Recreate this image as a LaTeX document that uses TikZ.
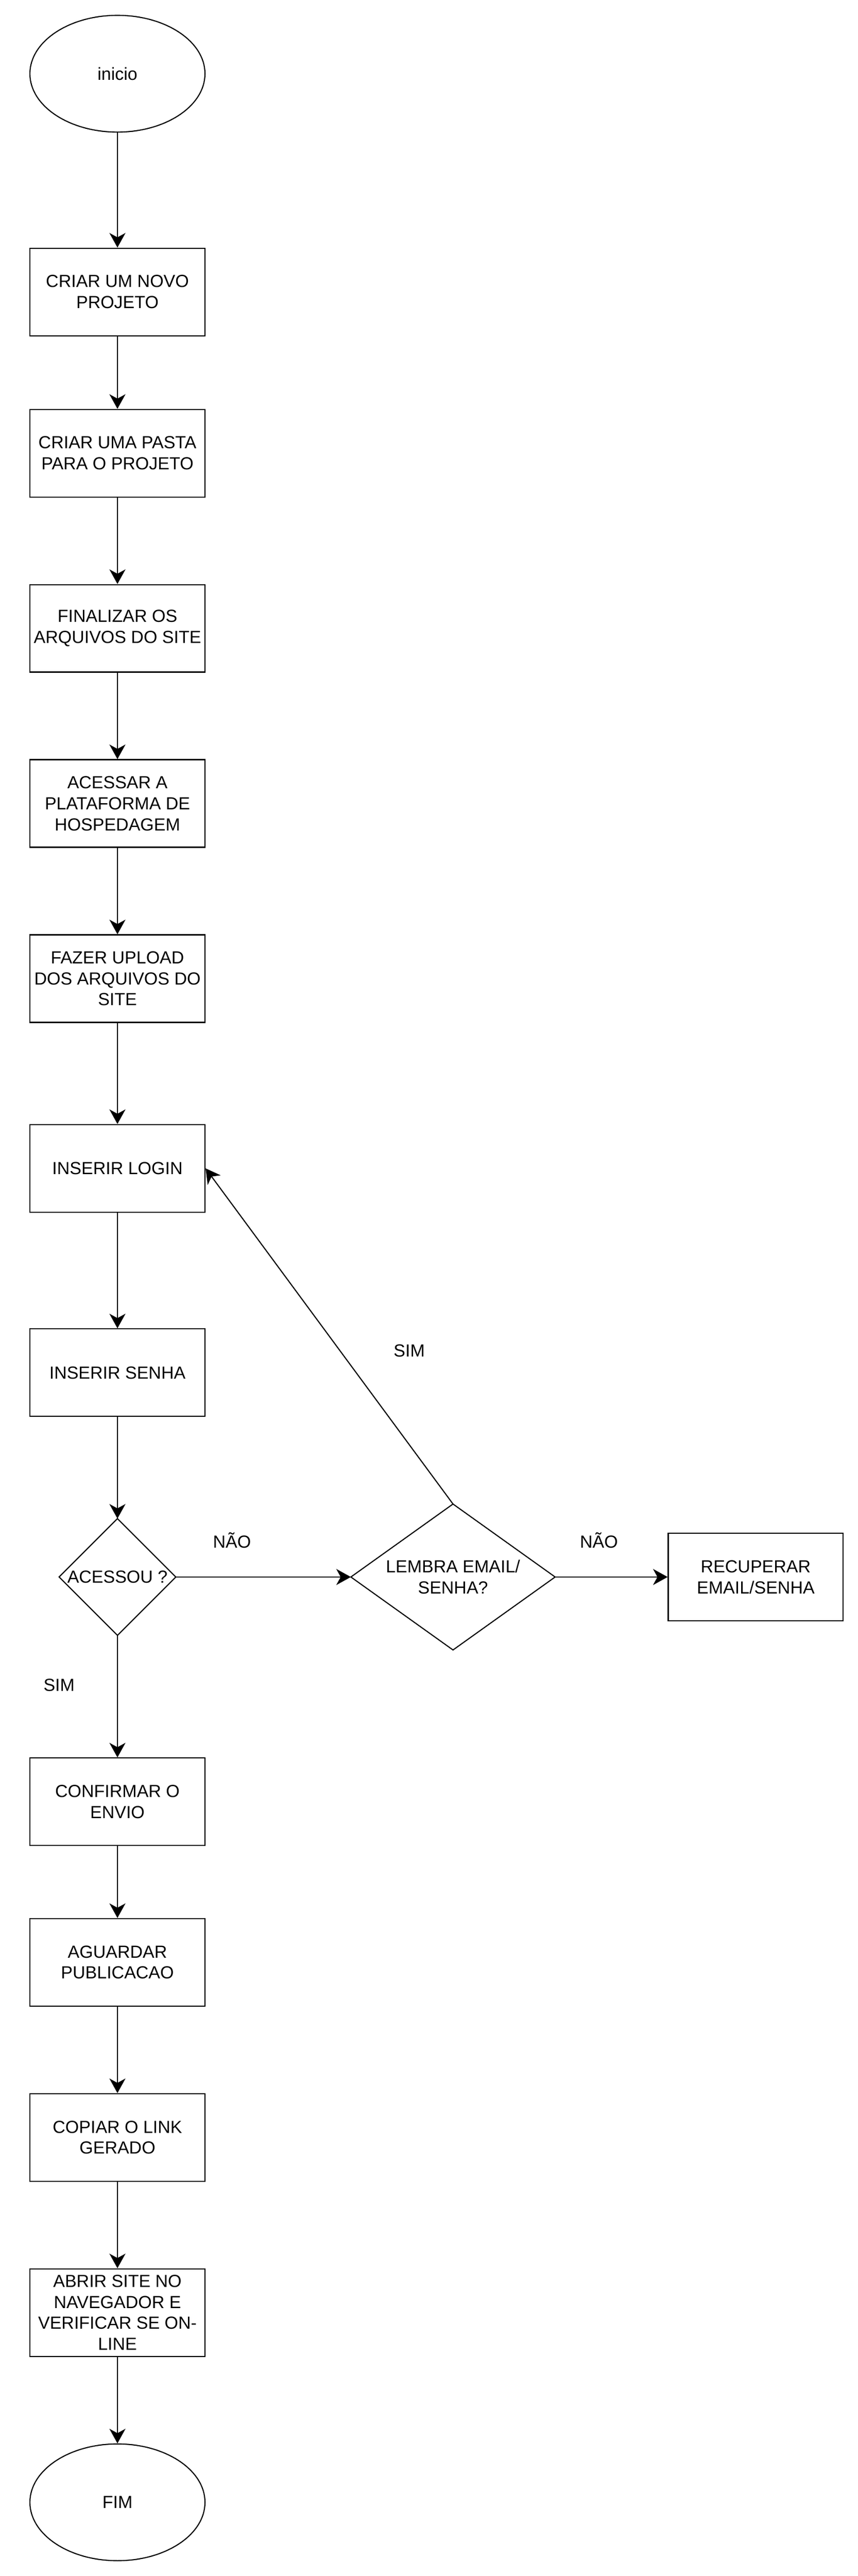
\documentclass[tikz,border=0pt]{standalone}
\usepackage{fontspec}
\setmainfont{Liberation Sans}
\usetikzlibrary{shapes.geometric,arrows.meta}
\tikzset{
  every node/.style={font=\fontsize{12}{14.4}\selectfont},
  base/.style={draw=black, line width=0.75pt, align=center, inner sep=0pt},
  procbox/.style={base, rectangle, minimum width=120pt, minimum height=60pt},
  termell/.style={base, ellipse, minimum width=120pt, minimum height=80pt},
  lbl/.style={inner sep=0pt, align=center},
  outline/.style={draw=black, line width=0.75pt, line join=miter},
  flow/.style={draw=black, line width=0.75pt, -{Stealth[length=10pt,width=11pt,inset=3pt]}},
}
\begin{document}
\begin{tikzpicture}[x=1pt,y=-1pt]
\useasboundingbox (0,0) rectangle (588,1765);

\node[termell] (ini) at (80.5,50.5) {inicio};
\node[procbox] (n1) at (80.5,200) {CRIAR UM NOVO\\PROJETO};
\node[procbox] (n2) at (80.5,310.5) {CRIAR UMA PASTA\\PARA O PROJETO};
\node[procbox] (n3) at (80.5,430.5) {FINALIZAR OS\\ARQUIVOS DO SITE};
\node[procbox] (n4) at (80.5,550.5) {ACESSAR A\\PLATAFORMA DE\\HOSPEDAGEM};
\node[procbox] (n5) at (80.5,670.5) {FAZER UPLOAD\\DOS ARQUIVOS DO\\SITE};
\node[procbox] (login) at (80.5,800.5) {INSERIR LOGIN};
\node[procbox] (senha) at (80.5,940.5) {INSERIR SENHA};

\node[lbl] (acessou) at (80.5,1080.5) {ACESSOU ?};
\path (40.5,1080.5) coordinate (acw) (120.5,1080.5) coordinate (ace)
      (80.5,1040.5) coordinate (acn) (80.5,1120.5) coordinate (acs);
\draw[outline] (acn) -- (ace) -- (acs) -- (acw) -- cycle;

\node[lbl] (lembra) at (310.5,1080.5) {LEMBRA EMAIL/\\SENHA?};
\path (240.5,1080.5) coordinate (lbw) (380.5,1080.5) coordinate (lbe)
      (310.5,1030.5) coordinate (lbn) (310.5,1130.5) coordinate (lbs);
\draw[outline] (lbn) -- (lbe) -- (lbs) -- (lbw) -- cycle;

\node[procbox] (recup) at (518,1080.5) {RECUPERAR\\EMAIL/SENHA};
\node[procbox] (conf) at (80.5,1234.5) {CONFIRMAR O\\ENVIO};
\node[procbox] (agu) at (80.5,1344.5) {AGUARDAR\\PUBLICACAO};
\node[procbox] (cop) at (80.5,1464.5) {COPIAR O LINK\\GERADO};
\node[procbox] (abr) at (80.5,1584.5) {ABRIR SITE NO\\NAVEGADOR E\\VERIFICAR SE ON-\\LINE};
\node[termell] (fim) at (80.5,1714.5) {FIM};

\node[lbl] (nao1) at (159,1055.5) {NÃO};
\node[lbl] (nao2) at (410.5,1055.5) {NÃO};
\node[lbl] (sim1) at (280.5,925.5) {SIM};
\node[lbl] (sim2) at (40.5,1154.5) {SIM};

\draw[flow] (ini) -- (n1);
\draw[flow] (n1) -- (n2);
\draw[flow] (n2) -- (n3);
\draw[flow] (n3) -- (n4);
\draw[flow] (n4) -- (n5);
\draw[flow] (n5) -- (login);
\draw[flow] (login) -- (senha);
\draw[flow] (senha) -- (acn);
\draw[flow] (ace) -- (lbw);
\draw[flow] (lbe) -- (recup);
\draw[flow] (lbn) -- (login.east);
\draw[flow] (acs) -- (conf);
\draw[flow] (conf) -- (agu);
\draw[flow] (agu) -- (cop);
\draw[flow] (cop) -- (abr);
\draw[flow] (abr) -- (fim);
\end{tikzpicture}
\end{document}
